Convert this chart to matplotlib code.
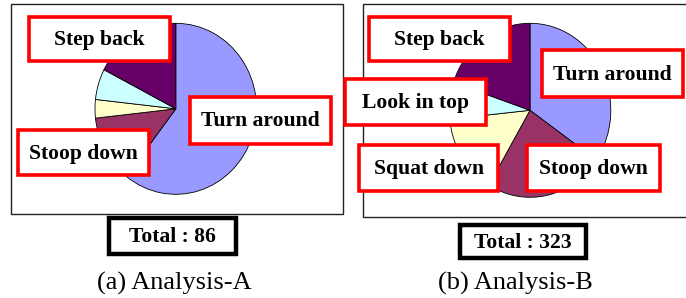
import matplotlib
matplotlib.use("Agg")
import matplotlib.pyplot as plt
from matplotlib.patches import Rectangle

# ---------------- data ----------------
categories = ["Turn around", "Stoop down", "Squat down", "Look in top", "Step back"]
values_a = [52, 11, 3, 5, 15]
values_b = [112, 77, 48, 22, 64]
colors = ["#9999FF", "#993366", "#FFFFCC", "#CCFFFF", "#660066"]
shown_a = ["Turn around", "Stoop down", "Step back"]
shown_b = ["Turn around", "Stoop down", "Squat down", "Look in top", "Step back"]
total_a = "Total : 86"
total_b = "Total : 323"
caption_a = "(a) Analysis-A"
caption_b = "(b) Analysis-B"

W, H = 686, 298
fig = plt.figure(figsize=(W / 100, H / 100), dpi=100)
fig.patch.set_facecolor("white")

# background axes for panel frames (pixel coordinates)
bg = fig.add_axes([0, 0, 1, 1], zorder=0)
bg.set_xlim(0, W)
bg.set_ylim(H, 0)
bg.axis("off")
bg.add_patch(Rectangle((10.5, 3.5), 332.5, 210.8, fill=False, edgecolor="#222222", lw=1.0))
bg.add_patch(Rectangle((363.3, 3.5), 330, 213.8, fill=False, edgecolor="#222222", lw=1.0))


def pie_axes(cx, cy, rx, ry, values):
    ax = fig.add_axes([(cx - rx) / W, 1 - (cy + ry) / H, 2 * rx / W, 2 * ry / H], zorder=1)
    wedges, _ = ax.pie(values, colors=colors, startangle=90, counterclock=False, radius=1,
                       wedgeprops=dict(edgecolor="black", linewidth=0.6))
    for w in wedges:
        w.set_clip_on(False)
    ax.set_xlim(-1, 1)
    ax.set_ylim(-1, 1)
    ax.set_aspect("auto")
    ax.axis("off")
    return ax


pie_axes(175.8, 108.8, 80.8, 85.5, values_a)
pie_axes(530.0, 110.3, 80.8, 87.0, values_b)

# overlay axes for labels
ov = fig.add_axes([0, 0, 1, 1], zorder=3)
ov.set_xlim(0, W)
ov.set_ylim(H, 0)
ov.axis("off")
ov.patch.set_alpha(0)

serif = "Liberation Serif"
red_lw = 2.6


def label_box(x0, y0, x1, y1, text):
    ov.add_patch(Rectangle((x0 + 1.8, y0 + 1.8), x1 - x0 - 3.6, y1 - y0 - 3.6,
                           facecolor="white", edgecolor="#FF0000", lw=red_lw))
    ov.text((x0 + x1) / 2, (y0 + y1) / 2 + 1, text, ha="center", va="center",
            fontfamily=serif, fontweight="bold", fontsize=15.6, color="black")


# panel A label boxes
boxes_a = {
    "Step back": (27, 15, 172, 63),
    "Turn around": (188, 95, 333, 146),
    "Stoop down": (16, 128, 151, 177),
}
for name in shown_a:
    label_box(*boxes_a[name], name)

# panel B label boxes
boxes_b = {
    "Step back": (367, 15, 512, 63),
    "Turn around": (540, 48, 685, 99),
    "Look in top": (343, 77, 488, 127),
    "Squat down": (357, 143, 500, 193),
    "Stoop down": (525, 143, 662, 193),
}
for name in shown_b:
    label_box(*boxes_b[name], name)


def total_box(x0, y0, x1, y1, text):
    ov.add_patch(Rectangle((x0 + 2.2, y0 + 2.2), x1 - x0 - 4.4, y1 - y0 - 4.4,
                           facecolor="white", edgecolor="black", lw=3.2))
    ov.text((x0 + x1) / 2, (y0 + y1) / 2 + 1, text, ha="center", va="center",
            fontfamily=serif, fontweight="bold", fontsize=15.6, color="black")


total_box(106.7, 216, 238.3, 256.7, total_a)
total_box(458, 223, 588, 260, total_b)

ov.text(174.5, 290, caption_a, ha="center", va="baseline", fontfamily=serif, fontsize=19)
ov.text(515, 290, caption_b, ha="center", va="baseline", fontfamily=serif, fontsize=19)

fig.savefig("out.png", dpi=100, facecolor="white")
